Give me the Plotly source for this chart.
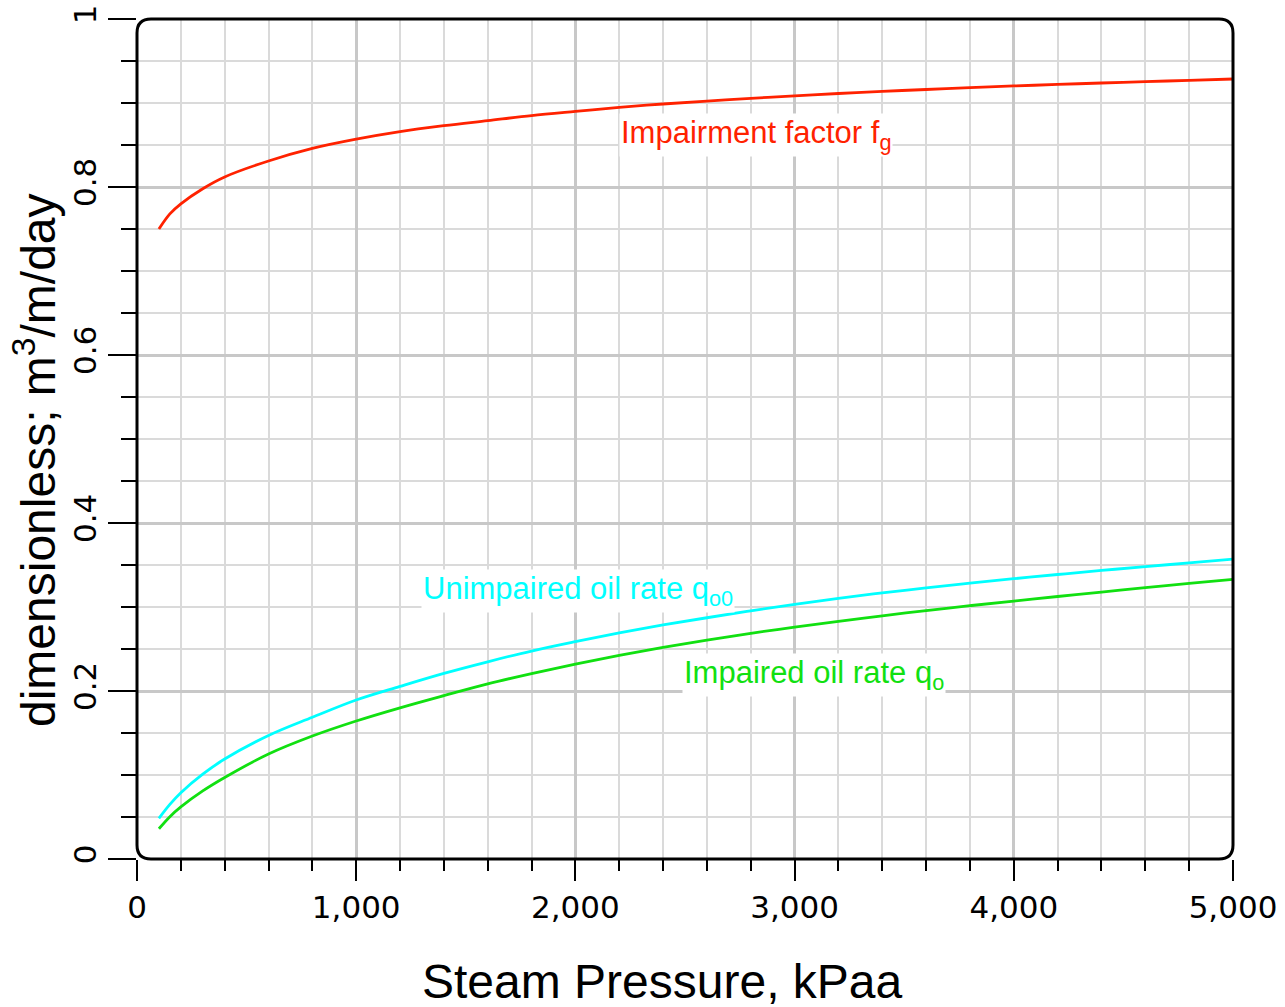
import plotly.graph_objects as go

# ---- data ----
fg_x = [100, 150, 200, 300, 400, 600, 800, 1000, 1200, 1400, 1600, 1800, 2000, 2200, 2400,
        2600, 2800, 3000, 3200, 3400, 3600, 3800, 4000, 4200, 4400, 4600, 4800, 5000]
fg_y = [0.750, 0.768, 0.780, 0.798, 0.812, 0.831, 0.846, 0.857, 0.866, 0.873, 0.879, 0.885,
        0.890, 0.8948, 0.8988, 0.9022, 0.9055, 0.9085, 0.9113, 0.9138, 0.9161, 0.9183, 0.9203,
        0.9221, 0.9238, 0.9254, 0.927, 0.9286]

qo0_x = [100, 150, 200, 300, 400, 600, 800, 1000, 1200, 1400, 1600, 1800, 2000, 2200, 2400,
         2600, 2800, 3000, 3200, 3400, 3600, 3800, 4000, 4200, 4400, 4600, 4800, 5000]
qo0_y = [0.0484, 0.065, 0.0789, 0.101, 0.119, 0.147, 0.1687, 0.1893, 0.2055, 0.221, 0.2348,
         0.2476, 0.2587, 0.2691, 0.2786, 0.2872, 0.2954, 0.3032, 0.3103, 0.3168, 0.3228, 0.3285,
         0.3337, 0.3387, 0.3435, 0.348, 0.3526, 0.3571]

qo_x = [100, 150, 200, 300, 400, 600, 800, 1000, 1200, 1400, 1600, 1800, 2000, 2200, 2400,
        2600, 2800, 3000, 3200, 3400, 3600, 3800, 4000, 4200, 4400, 4600, 4800, 5000]
qo_y = [0.036, 0.0504, 0.062, 0.081, 0.097, 0.125, 0.1464, 0.1643, 0.180, 0.1945, 0.2085,
        0.2208, 0.2321, 0.2425, 0.252, 0.2607, 0.2687, 0.2760, 0.2830, 0.2895, 0.2957, 0.3016,
        0.3071, 0.3125, 0.3178, 0.323, 0.3281, 0.333]

x_ticks = [0, 1000, 2000, 3000, 4000, 5000]
y_ticks = [0, 0.2, 0.4, 0.6, 0.8, 1]

RED = "#ff2200"
CYAN = "#00ffff"
GREEN = "#11e011"

fig = go.Figure()
for xs, ys, c in [(fg_x, fg_y, RED), (qo0_x, qo0_y, CYAN), (qo_x, qo_y, GREEN)]:
    fig.add_trace(go.Scatter(x=xs, y=ys, mode="lines",
                             line=dict(color=c, width=2.8, shape="spline", smoothing=1.0),
                             showlegend=False, hoverinfo="skip"))

TICKFONT = dict(family="DejaVu Sans", size=31, color="black")

fig.update_xaxes(
    range=[0, 5000], tickvals=x_ticks, tickformat=",", tickfont=TICKFONT,
    ticks="outside", ticklen=21, tickwidth=2, tickcolor="black",
    showgrid=True, gridcolor="#c8c8c8", gridwidth=2.5,
    showline=False, zeroline=False, automargin=False,
    minor=dict(dtick=200, ticks="outside", ticklen=11, tickwidth=2, tickcolor="black",
               showgrid=True, gridcolor="#dadada", gridwidth=1.5),
)
fig.update_yaxes(
    range=[0, 1], tickvals=y_ticks, tickfont=TICKFONT, tickangle=-90,
    ticks="outside", ticklen=28, tickwidth=2, tickcolor="black",
    showgrid=True, gridcolor="#c8c8c8", gridwidth=2.5,
    showline=False, zeroline=False, automargin=False,
    minor=dict(dtick=0.05, ticks="outside", ticklen=15, tickwidth=2, tickcolor="black",
               showgrid=True, gridcolor="#dadada", gridwidth=1.5),
)

# rounded frame
rx = 14 / 1096
ry = 14 / 840
path = (f"M {rx},0 L {1-rx},0 Q 1,0 1,{ry} L 1,{1-ry} Q 1,1 {1-rx},1 "
        f"L {rx},1 Q 0,1 0,{1-ry} L 0,{ry} Q 0,0 {rx},0 Z")
fig.add_shape(type="path", path=path, xref="paper", yref="paper",
              line=dict(color="black", width=3), layer="above")

LBL = "Liberation Sans, Arial, sans-serif"
fig.add_annotation(x=2199, y=0.8615, xref="x", yref="y", xanchor="left", yanchor="middle",
                   text="Impairment factor f<sub>g</sub>", showarrow=False,
                   font=dict(family=LBL, size=31, color=RED), bgcolor="white", borderpad=1)
fig.add_annotation(x=1296, y=0.3187, xref="x", yref="y", xanchor="left", yanchor="middle",
                   text="Unimpaired oil rate q<sub>o0</sub>", showarrow=False,
                   font=dict(family=LBL, size=31, color=CYAN), bgcolor="white", borderpad=1)
fig.add_annotation(x=2486, y=0.2188, xref="x", yref="y", xanchor="left", yanchor="middle",
                   text="Impaired oil rate q<sub>o</sub>", showarrow=False,
                   font=dict(family=LBL, size=31, color=GREEN), bgcolor="white", borderpad=1)

# axis titles
fig.add_annotation(x=(662 - 137) / 1096, y=(859 - 982) / 840, xref="paper", yref="paper",
                   xanchor="center", yanchor="middle", text="Steam Pressure, kPaa",
                   showarrow=False, font=dict(family=LBL, size=48, color="black"))
fig.add_annotation(x=(35 - 137) / 1096, y=(859 - 460) / 840, xref="paper", yref="paper",
                   xanchor="center", yanchor="middle", textangle=-90,
                   text="dimensionless; m<sup>3</sup>/m/day",
                   showarrow=False, font=dict(family=LBL, size=48, color="black"))

fig.update_layout(
    width=1285, height=1007,
    margin=dict(l=137, r=52, t=19, b=148),
    paper_bgcolor="white", plot_bgcolor="white",
    showlegend=False,
)

fig.write_html("out.html")
